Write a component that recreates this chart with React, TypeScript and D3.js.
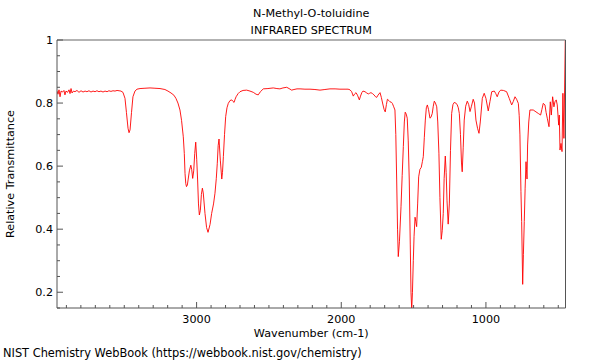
import React from "react";
import * as d3 from "d3";

const titleLines = ["N-Methyl-O-toluidine", "INFRARED SPECTRUM"];
const xLabel = "Wavenumber (cm-1)";
const yLabel = "Relative Transmittance";
const footer = "NIST Chemistry WebBook (https://webbook.nist.gov/chemistry)";
const xDomain = [3965, 450];
const yDomain = [0.15, 1];
const xMajorTicks = [3000, 2000, 1000];
const yMajorTicks = [0.2, 0.4, 0.6, 0.8, 1];

// [wavenumber (cm-1), relative transmittance]
const spectrum: [number, number][] = [
  [3965, 0.838], [3958, 0.828], [3951, 0.842], [3944, 0.82], [3937, 0.838],
  [3927, 0.835], [3917, 0.84], [3910, 0.826], [3903, 0.838], [3892, 0.834],
  [3882, 0.842], [3875, 0.83], [3868, 0.846], [3861, 0.832], [3851, 0.838],
  [3841, 0.836], [3827, 0.84], [3813, 0.834], [3799, 0.839], [3785, 0.835],
  [3771, 0.838], [3758, 0.836], [3744, 0.839], [3730, 0.835], [3716, 0.838],
  [3702, 0.836], [3689, 0.839], [3675, 0.836], [3661, 0.838], [3647, 0.835],
  [3633, 0.838], [3619, 0.836], [3606, 0.839], [3592, 0.837], [3578, 0.839],
  [3564, 0.838], [3550, 0.84], [3536, 0.839], [3523, 0.838], [3509, 0.834],
  [3495, 0.815], [3485, 0.77], [3474, 0.72], [3467, 0.706], [3460, 0.715],
  [3450, 0.77], [3440, 0.82], [3426, 0.838], [3412, 0.844], [3391, 0.846],
  [3357, 0.847], [3322, 0.848], [3288, 0.847], [3253, 0.846], [3219, 0.843],
  [3198, 0.838], [3177, 0.832], [3157, 0.825], [3143, 0.815], [3129, 0.8],
  [3115, 0.778], [3104, 0.745], [3092, 0.693], [3085, 0.64], [3080, 0.577],
  [3075, 0.545], [3070, 0.535], [3064, 0.54], [3059, 0.556], [3050, 0.585],
  [3040, 0.603], [3034, 0.59], [3027, 0.561], [3020, 0.585], [3013, 0.64],
  [3006, 0.676], [2999, 0.62], [2993, 0.556], [2987, 0.48], [2981, 0.445],
  [2974, 0.46], [2967, 0.51], [2960, 0.53], [2954, 0.515], [2942, 0.45],
  [2931, 0.405], [2921, 0.39], [2907, 0.415], [2896, 0.45], [2883, 0.48],
  [2873, 0.514], [2864, 0.56], [2857, 0.609], [2851, 0.665], [2845, 0.686],
  [2836, 0.619], [2826, 0.559], [2821, 0.58], [2815, 0.63], [2807, 0.7],
  [2799, 0.757], [2790, 0.785], [2781, 0.799], [2769, 0.808], [2757, 0.81],
  [2748, 0.805], [2741, 0.802], [2734, 0.812], [2727, 0.82], [2713, 0.83],
  [2700, 0.836], [2679, 0.84], [2654, 0.841], [2631, 0.838], [2608, 0.834],
  [2589, 0.828], [2574, 0.826], [2559, 0.836], [2539, 0.845], [2507, 0.846],
  [2470, 0.848], [2445, 0.846], [2424, 0.845], [2403, 0.848], [2377, 0.85],
  [2361, 0.846], [2343, 0.841], [2327, 0.843], [2306, 0.845], [2285, 0.845],
  [2251, 0.844], [2216, 0.844], [2182, 0.843], [2147, 0.841], [2113, 0.843],
  [2078, 0.845], [2043, 0.845], [2009, 0.844], [1974, 0.844], [1953, 0.844],
  [1940, 0.842], [1928, 0.836], [1917, 0.822], [1909, 0.828], [1898, 0.833],
  [1888, 0.825], [1875, 0.81], [1867, 0.822], [1858, 0.833], [1850, 0.838],
  [1836, 0.836], [1824, 0.832], [1813, 0.829], [1804, 0.831], [1795, 0.833],
  [1784, 0.83], [1774, 0.826], [1763, 0.82], [1755, 0.818], [1746, 0.825],
  [1732, 0.833], [1723, 0.818], [1713, 0.797], [1704, 0.78], [1696, 0.772],
  [1688, 0.795], [1681, 0.812], [1671, 0.808], [1663, 0.804], [1652, 0.802],
  [1647, 0.799], [1639, 0.79], [1629, 0.778], [1623, 0.7], [1617, 0.556],
  [1611, 0.4], [1606, 0.313], [1598, 0.36], [1587, 0.471], [1579, 0.57],
  [1571, 0.662], [1564, 0.74], [1558, 0.771], [1551, 0.765], [1544, 0.752],
  [1537, 0.68], [1530, 0.556], [1523, 0.35], [1518, 0.2], [1513, 0.145],
  [1508, 0.2], [1502, 0.3], [1497, 0.376], [1490, 0.438], [1485, 0.425],
  [1479, 0.408], [1472, 0.48], [1465, 0.566], [1456, 0.59], [1447, 0.596],
  [1439, 0.615], [1433, 0.63], [1426, 0.69], [1419, 0.746], [1412, 0.785],
  [1405, 0.794], [1397, 0.78], [1387, 0.752], [1380, 0.755], [1371, 0.767],
  [1364, 0.79], [1357, 0.806], [1349, 0.8], [1340, 0.788], [1333, 0.74],
  [1325, 0.641], [1318, 0.5], [1309, 0.368], [1302, 0.395], [1295, 0.45],
  [1289, 0.56], [1281, 0.632], [1275, 0.58], [1269, 0.49], [1261, 0.416],
  [1253, 0.48], [1245, 0.65], [1237, 0.767], [1228, 0.795], [1219, 0.802],
  [1208, 0.8], [1198, 0.794], [1191, 0.785], [1184, 0.767], [1176, 0.7],
  [1169, 0.61], [1164, 0.582], [1157, 0.66], [1150, 0.746], [1140, 0.79],
  [1129, 0.806], [1119, 0.795], [1110, 0.773], [1100, 0.79], [1088, 0.812],
  [1079, 0.8], [1069, 0.746], [1058, 0.72], [1048, 0.704], [1039, 0.74],
  [1025, 0.815], [1012, 0.831], [1000, 0.815], [984, 0.775], [972, 0.805],
  [960, 0.836], [942, 0.838], [932, 0.83], [922, 0.82], [910, 0.835],
  [898, 0.841], [879, 0.84], [857, 0.836], [839, 0.815], [822, 0.794],
  [811, 0.805], [799, 0.82], [788, 0.812], [776, 0.799], [770, 0.76],
  [765, 0.699], [758, 0.52], [753, 0.424], [746, 0.225], [741, 0.32],
  [735, 0.424], [729, 0.53], [723, 0.614], [720, 0.59], [716, 0.559],
  [712, 0.667], [704, 0.74], [696, 0.778], [673, 0.778], [654, 0.772],
  [638, 0.767], [622, 0.762], [613, 0.78], [604, 0.799], [592, 0.794],
  [584, 0.77], [576, 0.752], [564, 0.725], [555, 0.804], [548, 0.762],
  [539, 0.82], [530, 0.788], [523, 0.804], [514, 0.81], [507, 0.794],
  [497, 0.73], [493, 0.762], [488, 0.651], [481, 0.672], [474, 0.646],
  [468, 0.831], [461, 0.688], [450, 1.05],
];

const W = 600;
const H = 360;
const M = { left: 57, right: 565.5, top: 40, bottom: 308 };
const FONT = "DejaVu Sans, sans-serif";
const FS = 11.2;

export default function App() {
  const x = d3.scaleLinear().domain(xDomain).range([M.left, M.right]);
  const y = d3.scaleLinear().domain(yDomain).range([M.bottom, M.top]);
  const line = d3
    .line<[number, number]>()
    .x((d) => x(d[0]))
    .y((d) => y(d[1]));

  const xMinor = d3.range(500, 3966, 100).filter((v) => !xMajorTicks.includes(v));
  const yMinor = d3
    .range(0.15, 1.0001, 0.05)
    .map((v) => Math.round(v * 100) / 100)
    .filter((v) => !yMajorTicks.some((m) => Math.abs(m - v) < 1e-6));
  const axisColor = "#555";

  return (
    <svg
      width={W}
      height={H}
      style={{ position: "absolute", left: 0, top: 0, background: "#fff" }}
      fontFamily={FONT}
    >
      <defs>
        <clipPath id="plotClip">
          <rect x={M.left} y={M.top} width={M.right - M.left} height={M.bottom - M.top} />
        </clipPath>
      </defs>
      <rect x={0} y={0} width={W} height={H} fill="#fff" />

      {titleLines.map((t, i) => (
        <text key={t} x={(M.left + M.right) / 2} y={17 + i * 17} textAnchor="middle" fontSize={FS} fill="#000">
          {t}
        </text>
      ))}

      <path d={line(spectrum) || ""} fill="none" stroke="#ff0000" strokeWidth={0.9} clipPath="url(#plotClip)" />

      {/* frame */}
      <line x1={M.left} x2={M.right} y1={M.top} y2={M.top} stroke="#999" strokeWidth={1.5} />
      <line x1={M.left} x2={M.left} y1={M.top} y2={M.bottom} stroke={axisColor} strokeWidth={1} />
      <line x1={M.right} x2={M.right} y1={M.top} y2={M.bottom} stroke={axisColor} strokeWidth={1} />
      <line x1={M.left} x2={M.right} y1={M.bottom} y2={M.bottom} stroke={axisColor} strokeWidth={1} />

      {/* x ticks */}
      {xMinor.map((v) => (
        <line key={"xm" + v} x1={x(v)} x2={x(v)} y1={M.bottom} y2={M.bottom - 3} stroke={axisColor} strokeWidth={1} />
      ))}
      {xMajorTicks.map((v) => (
        <g key={"xM" + v}>
          <line x1={x(v)} x2={x(v)} y1={M.bottom} y2={M.bottom - 6} stroke={axisColor} strokeWidth={1} />
          <text x={x(v)} y={323} textAnchor="middle" fontSize={FS} fill="#000">
            {v}
          </text>
        </g>
      ))}

      {/* y ticks */}
      {yMinor.map((v) => (
        <line key={"ym" + v} x1={M.left} x2={M.left + 3} y1={y(v)} y2={y(v)} stroke={axisColor} strokeWidth={1} />
      ))}
      {yMajorTicks.map((v) => (
        <g key={"yM" + v}>
          <line x1={M.left} x2={M.left + 6} y1={y(v)} y2={y(v)} stroke={axisColor} strokeWidth={1} />
          <text x={53} y={y(v) + 4} textAnchor="end" fontSize={FS} fill="#000">
            {d3.format("~g")(v)}
          </text>
        </g>
      ))}

      <text x={(M.left + M.right) / 2} y={337} textAnchor="middle" fontSize={FS} fill="#000">
        {xLabel}
      </text>
      <text
        transform={`translate(14, ${(M.top + M.bottom) / 2}) rotate(-90)`}
        textAnchor="middle"
        fontSize={FS}
        fill="#000"
      >
        {yLabel}
      </text>
      <text x={3} y={357} fontSize={11.4} fill="#000">
        {footer}
      </text>
    </svg>
  );
}
